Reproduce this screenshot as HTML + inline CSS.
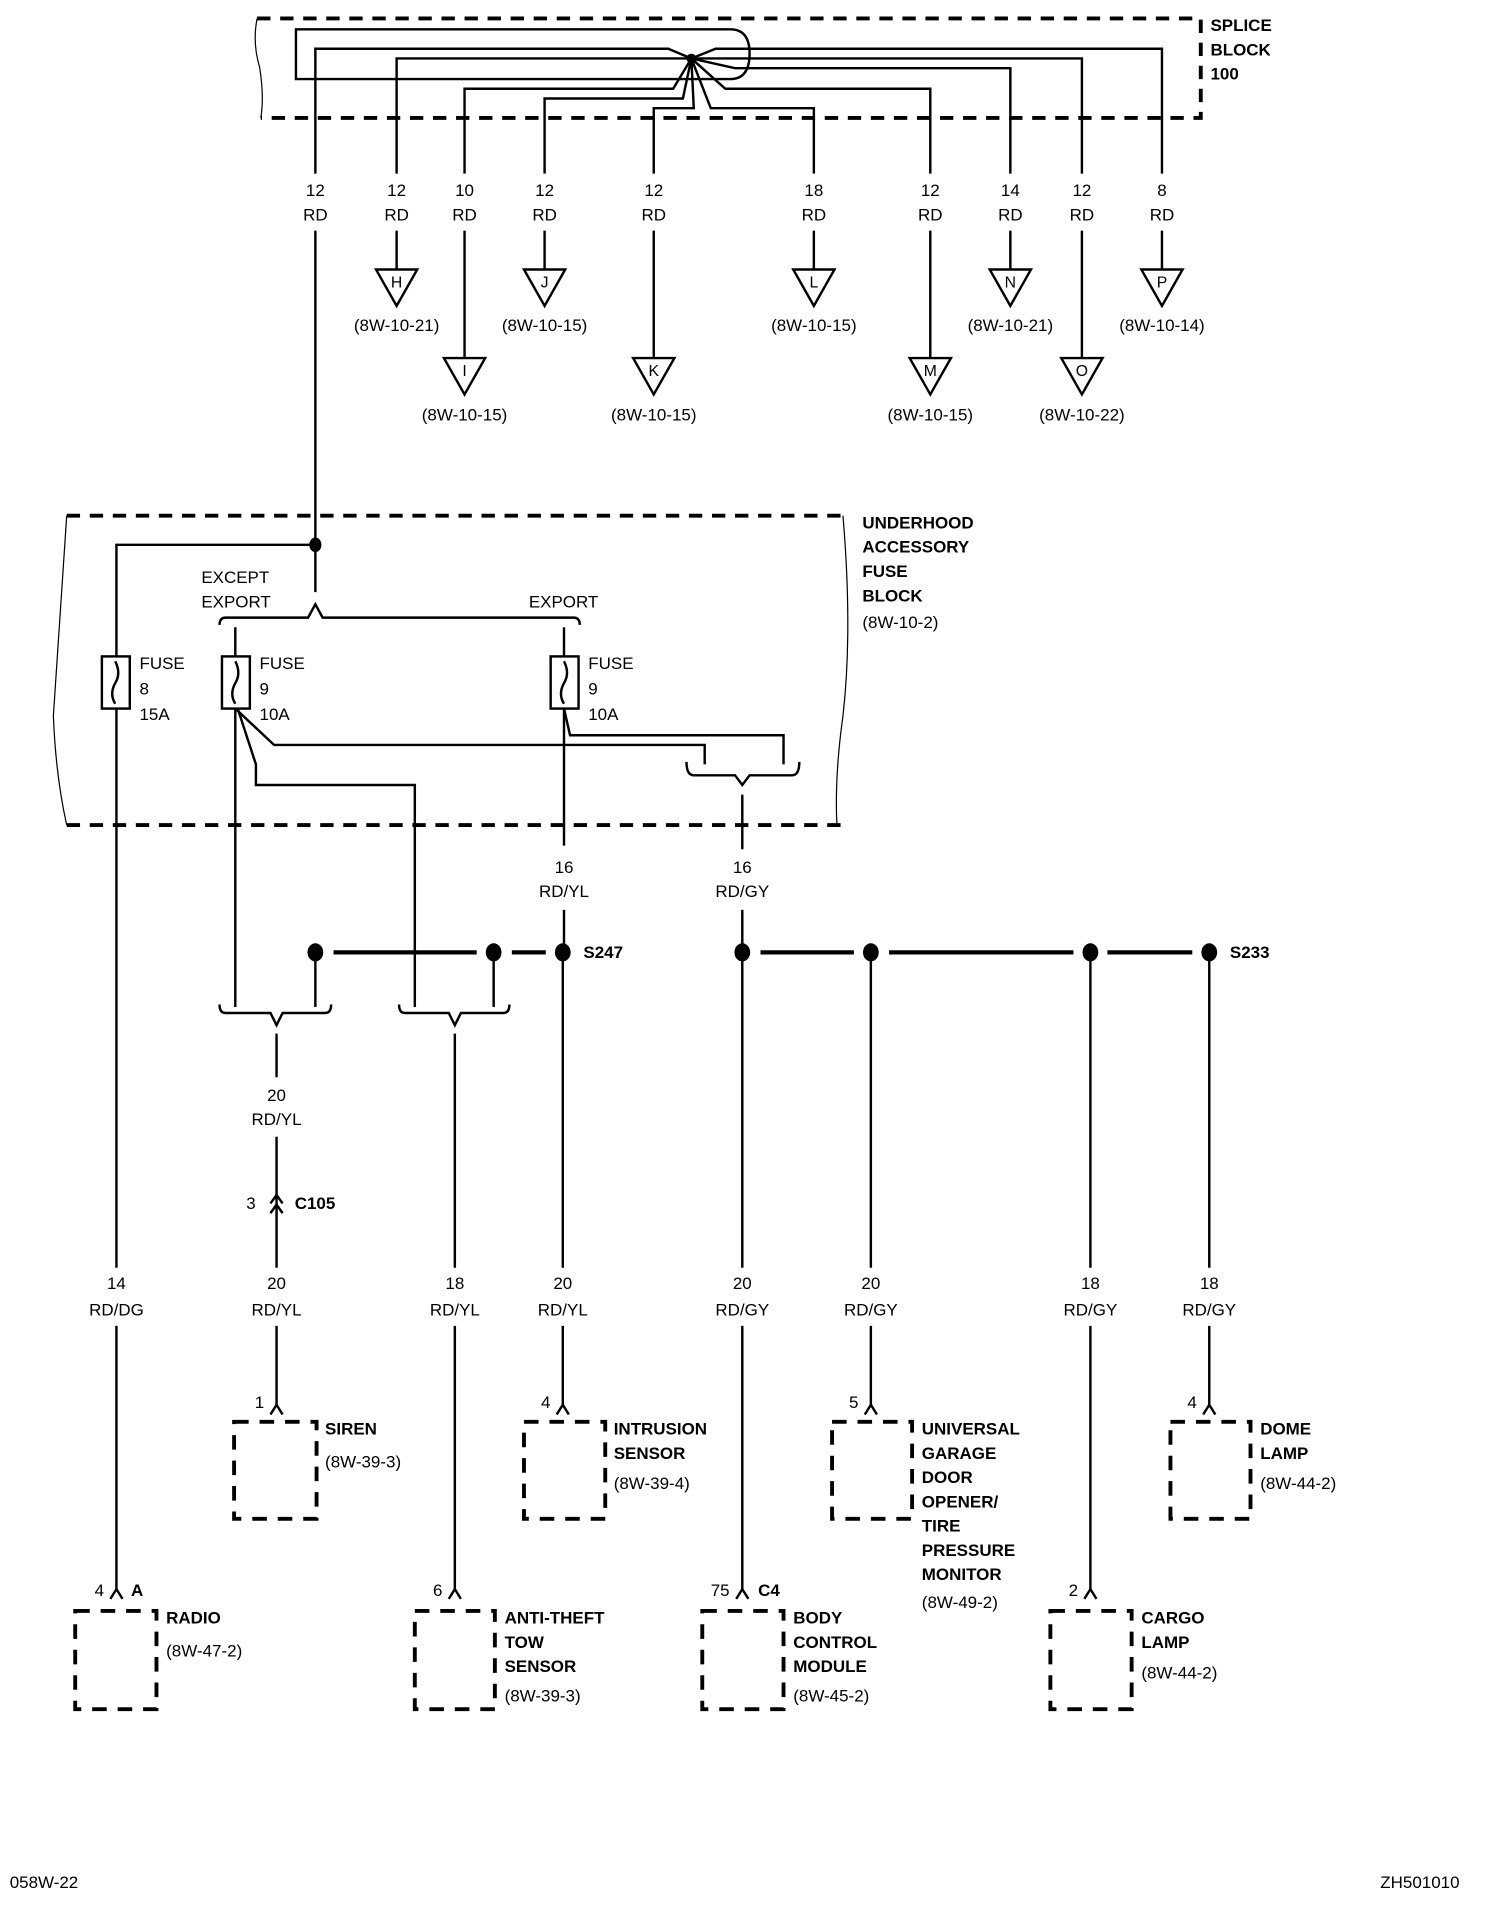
<!DOCTYPE html>
<html><head><meta charset="utf-8"><style>
html,body{margin:0;padding:0;background:#fff;}
svg{display:block;}
text{font-family:"Liberation Sans Narrow","Liberation Sans",sans-serif;font-size:14px;fill:#000;dominant-baseline:central;}
.b{font-weight:bold;}
.m{text-anchor:middle;}
</style></head><body>
<svg width="1504" height="1912" viewBox="0 0 1240 1576" xmlns="http://www.w3.org/2000/svg">
<g fill="none" stroke="#000" stroke-width="2">
<path d="M212 15 H990 V97 H215" stroke-width="3.2" stroke-dasharray="11 8"/>
<path d="M212 15 Q208 35 214 55 Q218 80 215 97" stroke-width="1"/>
<path d="M244 24 H602 Q618 24 618 44 Q618 65 602 65 H244 Z"/>
<path d="M260 143 V40 H551 L570 48"/>
<path d="M327 143 V48 H570"/>
<path d="M383 143 V73 H555 L570 48"/>
<path d="M449 143 V81 H563 L570 48"/>
<path d="M539 143 V89 H572 L570 48"/>
<path d="M671 143 V89 H586 L570 48"/>
<path d="M767 143 V73 H598 L570 48"/>
<path d="M833 143 V56 H606 L570 48"/>
<path d="M892 143 V48 H570"/>
<path d="M958 143 V40 H590 L570 48"/>
<path d="M260 190 V449"/>
<path d="M327 190 V222 M383 190 V295 M449 190 V222 M539 190 V295 M671 190 V222 M767 190 V295 M833 190 V222 M892 190 V295 M958 190 V222"/>
<path d="M310 222 H344 L327 252 Z M432 222 H466 L449 252 Z M654 222 H688 L671 252 Z M816 222 H850 L833 252 Z M941 222 H975 L958 252 Z"/>
<path d="M366 295 H400 L383 325 Z M522 295 H556 L539 325 Z M750 295 H784 L767 325 Z M875 295 H909 L892 325 Z"/>

<path d="M55 425 H695 M55 680 H695" stroke-width="3.2" stroke-dasharray="11 8"/>
<path d="M55 425 Q50 500 44 590 Q46 640 55 680" stroke-width="1"/>
<path d="M695 425 Q703 520 695 590 Q688 640 690 680" stroke-width="1"/>
<path d="M260 449 H96 V541"/>
<path d="M96 584 V1045"/>
<path d="M260 449 V488"/>
<path d="M181 515 Q181 509 186 509 H254 L260 498 L266 509 H473 Q478 509 478 515"/>
<rect x="84" y="541" width="23" height="43"/>
<rect x="183" y="541" width="23" height="43"/>
<rect x="454" y="541" width="23" height="43"/>
<path d="M95 545 Q100 555 95 563 Q90 572 95 580 M194 545 Q199 555 194 563 Q189 572 194 580 M465 545 Q470 555 465 563 Q460 572 465 580"/>
<path d="M194 517 V541 M465 517 V541"/>
<path d="M194 584 V830"/>
<path d="M194 584 L226 614 H581 V630"/>
<path d="M196 584 L211 630 V647 H342 V830"/>
<path d="M465 584 V697 M465 750 V785"/>
<path d="M465 584 L470 606 H646 V630"/>
<path d="M566 628 Q566 639 572 639 H606 L612 647 L618 639 H653 Q659 639 659 628"/>
<path d="M612 655 V700 M612 750 V1045"/>
<path d="M275 785 H393 M422 785 H450 M627 785 H704 M733 785 H885 M913 785 H983" stroke-width="3.5"/>
<path d="M260 785 V830 M407 785 V830 M464 785 V1045 M718 785 V1045 M899 785 V1045 M997 785 V1045"/>
<path d="M181 828 Q181 835 186 835 H223 L228 845 L233 835 H268 Q273 835 273 828"/>
<path d="M329 828 Q329 835 334 835 H370 L375 845 L380 835 H415 Q420 835 420 828"/>
<path d="M228 852 V888 M228 937 V1045 M375 852 V1045"/>
<path d="M223 992 L228 985 L233 992 M223 1000 L228 993 L233 1000"/>
<path d="M96 1093 V1312 M228 1093 V1160 M375 1093 V1312 M464 1093 V1160 M612 1093 V1312 M718 1093 V1160 M899 1093 V1312 M997 1093 V1160"/>
<path d="M91 1318 L96 1310 L101 1318 M223 1166 L228 1158 L233 1166 M370 1318 L375 1310 L380 1318 M459 1166 L464 1158 L469 1166 M607 1318 L612 1310 L617 1318 M713 1166 L718 1158 L723 1166 M894 1318 L899 1310 L904 1318 M992 1166 L997 1158 L1002 1166"/>
<g stroke-width="3.2" stroke-dasharray="12 9">
<rect x="193" y="1172" width="68" height="80"/>
<rect x="432" y="1172" width="67" height="80"/>
<rect x="686" y="1172" width="66" height="80"/>
<rect x="965" y="1172" width="66" height="80"/>
<rect x="62" y="1328" width="67" height="81"/>
<rect x="342" y="1328" width="66" height="81"/>
<rect x="579" y="1328" width="67" height="81"/>
<rect x="866" y="1328" width="67" height="81"/>
</g>
</g>
<g fill="#000">
<ellipse cx="570" cy="48" rx="4" ry="4"/>
<ellipse cx="260" cy="449" rx="5" ry="6"/>
<ellipse cx="260" cy="785" rx="6.5" ry="7.5"/><ellipse cx="407" cy="785" rx="6.5" ry="7.5"/><ellipse cx="464" cy="785" rx="6.5" ry="7.5"/>
<ellipse cx="612" cy="785" rx="6.5" ry="7.5"/><ellipse cx="718" cy="785" rx="6.5" ry="7.5"/><ellipse cx="899" cy="785" rx="6.5" ry="7.5"/><ellipse cx="997" cy="785" rx="6.5" ry="7.5"/>
</g>
<text class="b" x="998" y="21">SPLICE</text><text class="b" x="998" y="41">BLOCK</text><text class="b" x="998" y="61">100</text>
<g>
<text class="m" x="260" y="157">12</text><text class="m" x="260" y="177">RD</text>
<text class="m" x="327" y="157">12</text><text class="m" x="327" y="177">RD</text>
<text class="m" x="383" y="157">10</text><text class="m" x="383" y="177">RD</text>
<text class="m" x="449" y="157">12</text><text class="m" x="449" y="177">RD</text>
<text class="m" x="539" y="157">12</text><text class="m" x="539" y="177">RD</text>
<text class="m" x="671" y="157">18</text><text class="m" x="671" y="177">RD</text>
<text class="m" x="767" y="157">12</text><text class="m" x="767" y="177">RD</text>
<text class="m" x="833" y="157">14</text><text class="m" x="833" y="177">RD</text>
<text class="m" x="892" y="157">12</text><text class="m" x="892" y="177">RD</text>
<text class="m" x="958" y="157">8</text><text class="m" x="958" y="177">RD</text>
<text class="m" x="327" y="233" style="font-size:13px">H</text><text class="m" x="449" y="233" style="font-size:13px">J</text><text class="m" x="671" y="233" style="font-size:13px">L</text><text class="m" x="833" y="233" style="font-size:13px">N</text><text class="m" x="958" y="233" style="font-size:13px">P</text>
<text class="m" x="383" y="306" style="font-size:13px">I</text><text class="m" x="539" y="306" style="font-size:13px">K</text><text class="m" x="767" y="306" style="font-size:13px">M</text><text class="m" x="892" y="306" style="font-size:13px">O</text>
<text class="m" x="327" y="268">(8W-10-21)</text><text class="m" x="449" y="268">(8W-10-15)</text><text class="m" x="671" y="268">(8W-10-15)</text><text class="m" x="833" y="268">(8W-10-21)</text><text class="m" x="958" y="268">(8W-10-14)</text>
<text class="m" x="383" y="342">(8W-10-15)</text><text class="m" x="539" y="342">(8W-10-15)</text><text class="m" x="767" y="342">(8W-10-15)</text><text class="m" x="892" y="342">(8W-10-22)</text>
<text class="m" x="465" y="715">16</text><text class="m" x="465" y="735">RD/YL</text>
<text class="m" x="612" y="715">16</text><text class="m" x="612" y="735">RD/GY</text>
<text class="m" x="228" y="903">20</text><text class="m" x="228" y="923">RD/YL</text>
<text class="m" x="96" y="1058">14</text><text class="m" x="96" y="1080">RD/DG</text>
<text class="m" x="228" y="1058">20</text><text class="m" x="228" y="1080">RD/YL</text>
<text class="m" x="375" y="1058">18</text><text class="m" x="375" y="1080">RD/YL</text>
<text class="m" x="464" y="1058">20</text><text class="m" x="464" y="1080">RD/YL</text>
<text class="m" x="612" y="1058">20</text><text class="m" x="612" y="1080">RD/GY</text>
<text class="m" x="718" y="1058">20</text><text class="m" x="718" y="1080">RD/GY</text>
<text class="m" x="899" y="1058">18</text><text class="m" x="899" y="1080">RD/GY</text>
<text class="m" x="997" y="1058">18</text><text class="m" x="997" y="1080">RD/GY</text>
</g>
<text class="b" x="711" y="431">UNDERHOOD</text><text class="b" x="711" y="451">ACCESSORY</text><text class="b" x="711" y="471">FUSE</text><text class="b" x="711" y="491">BLOCK</text><text x="711" y="513">(8W-10-2)</text>
<text x="166" y="476">EXCEPT</text><text x="166" y="496">EXPORT</text><text x="436" y="496">EXPORT</text>
<text x="115" y="547">FUSE</text><text x="115" y="568">8</text><text x="115" y="589">15A</text>
<text x="214" y="547">FUSE</text><text x="214" y="568">9</text><text x="214" y="589">10A</text>
<text x="485" y="547">FUSE</text><text x="485" y="568">9</text><text x="485" y="589">10A</text>
<text class="b" x="481" y="785">S247</text><text class="b" x="1014" y="785">S233</text>
<text x="203" y="992">3</text><text class="b" x="243" y="992">C105</text>
<text x="210" y="1156">1</text><text x="446" y="1156">4</text><text x="700" y="1156">5</text><text x="979" y="1156">4</text>
<text x="78" y="1311">4</text><text class="b" x="108" y="1311">A</text>
<text x="357" y="1311">6</text><text x="586" y="1311">75</text><text class="b" x="625" y="1311">C4</text><text x="881" y="1311">2</text>
<text class="b" x="268" y="1178">SIREN</text><text x="268" y="1205">(8W-39-3)</text>
<text class="b" x="506" y="1178">INTRUSION</text><text class="b" x="506" y="1198">SENSOR</text><text x="506" y="1223">(8W-39-4)</text>
<text class="b" x="760" y="1178">UNIVERSAL</text><text class="b" x="760" y="1198">GARAGE</text><text class="b" x="760" y="1218">DOOR</text><text class="b" x="760" y="1238">OPENER/</text><text class="b" x="760" y="1258">TIRE</text><text class="b" x="760" y="1278">PRESSURE</text><text class="b" x="760" y="1298">MONITOR</text><text x="760" y="1321">(8W-49-2)</text>
<text class="b" x="1039" y="1178">DOME</text><text class="b" x="1039" y="1198">LAMP</text><text x="1039" y="1223">(8W-44-2)</text>
<text class="b" x="137" y="1334">RADIO</text><text x="137" y="1361">(8W-47-2)</text>
<text class="b" x="416" y="1334">ANTI-THEFT</text><text class="b" x="416" y="1354">TOW</text><text class="b" x="416" y="1374">SENSOR</text><text x="416" y="1398">(8W-39-3)</text>
<text class="b" x="654" y="1334">BODY</text><text class="b" x="654" y="1354">CONTROL</text><text class="b" x="654" y="1374">MODULE</text><text x="654" y="1398">(8W-45-2)</text>
<text class="b" x="941" y="1334">CARGO</text><text class="b" x="941" y="1354">LAMP</text><text x="941" y="1379">(8W-44-2)</text>
<text x="8" y="1552">058W-22</text><text x="1138" y="1552">ZH501010</text>
</svg>
</body></html>
